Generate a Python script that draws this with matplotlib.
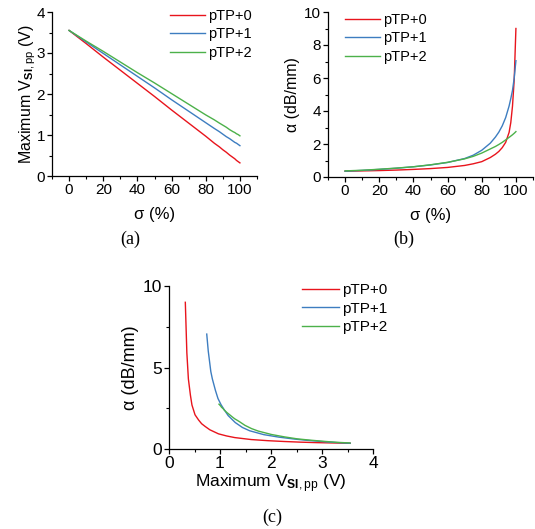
import numpy as np
import matplotlib
matplotlib.use("Agg")
import matplotlib.pyplot as plt
from matplotlib.ticker import MultipleLocator

plt.rcParams['font.family'] = ['Liberation Sans', 'DejaVu Sans']
plt.rcParams['mathtext.fontset'] = 'custom'
plt.rcParams['mathtext.rm'] = 'Liberation Sans'
plt.rcParams['mathtext.bf'] = 'Liberation Sans:bold'
plt.rcParams['mathtext.it'] = 'Liberation Sans:italic'

labels = ["pTP+0", "pTP+1", "pTP+2"]
colors = ["#e8141c", "#3d7dc0", "#4cb14a"]

sigma = [0, 10, 20, 30, 40, 50, 60, 70, 75, 80, 85, 88, 90, 92, 94, 96, 97, 98, 99, 100]

v_p0 = [3.55, 3.23, 2.90, 2.58, 2.26, 1.94, 1.61, 1.29, 1.13, 0.97, 0.80, 0.71, 0.64, 0.58, 0.51, 0.45, 0.42, 0.38, 0.35, 0.32]
v_p1 = [3.55, 3.27, 2.99, 2.71, 2.43, 2.15, 1.86, 1.58, 1.44, 1.30, 1.16, 1.08, 1.02, 0.96, 0.91, 0.85, 0.82, 0.80, 0.77, 0.74]
v_p2 = [3.55, 3.29, 3.04, 2.78, 2.52, 2.27, 2.01, 1.75, 1.62, 1.49, 1.37, 1.29, 1.24, 1.19, 1.13, 1.08, 1.06, 1.03, 1.01, 0.98]

a_p0 = [0.35, 0.37, 0.39, 0.42, 0.46, 0.51, 0.58, 0.70, 0.80, 0.93, 1.18, 1.38, 1.55, 1.78, 2.10, 2.70, 3.30, 4.30, 5.90, 9.00]
a_p1 = [0.35, 0.40, 0.46, 0.53, 0.62, 0.73, 0.88, 1.12, 1.32, 1.62, 2.05, 2.42, 2.72, 3.10, 3.60, 4.30, 4.75, 5.25, 6.00, 7.05]
a_p2 = [0.37, 0.41, 0.47, 0.54, 0.62, 0.74, 0.89, 1.10, 1.25, 1.45, 1.70, 1.85, 1.97, 2.10, 2.25, 2.40, 2.48, 2.56, 2.65, 2.75]

V = [v_p0, v_p1, v_p2]
A = [a_p0, a_p1, a_p2]

W, H = 535, 529
fig = plt.figure(figsize=(W / 100, H / 100), dpi=100)

def ax_px(l, t, r, b):
    return fig.add_axes([l / W, 1 - b / H, (r - l) / W, (b - t) / H])

def style(ax, ls):
    for s in ("top", "right"):
        ax.spines[s].set_visible(False)
    for s in ("left", "bottom"):
        ax.spines[s].set_linewidth(0.9)
    ax.tick_params(which="major", direction="out", length=3.5, width=0.9,
                   labelsize=ls, pad=1.5)
    ax.tick_params(which="minor", direction="out", length=2, width=0.8)

sub = r"Maximum V$_{\mathbf{SI},\mathrm{pp}}$ (V)"

def leg(ax, x, y, fs):
    ax.legend(loc="upper left", bbox_to_anchor=(x / W, 1 - y / H),
              bbox_transform=fig.transFigure, frameon=False, fontsize=fs,
              handlelength=2.4, handletextpad=0.2, labelspacing=0.3,
              borderaxespad=0, borderpad=0)

# (a)
ax1 = ax_px(52, 12, 257, 176)
for v, c, l in zip(V, colors, labels):
    ax1.plot(sigma, v, color=c, lw=1.0, label=l)
ax1.set_xlim(-10, 110)
ax1.set_ylim(0, 4)
ax1.xaxis.set_major_locator(MultipleLocator(20))
ax1.xaxis.set_minor_locator(MultipleLocator(10))
ax1.yaxis.set_major_locator(MultipleLocator(1))
ax1.yaxis.set_minor_locator(MultipleLocator(0.5))
style(ax1, 11)
ax1.set_xlabel("σ (%)", fontsize=12, labelpad=7)
ax1.set_ylabel(sub, fontsize=11.5, labelpad=-1)
leg(ax1, 170, 9, 10.5)

# (b)
ax2 = ax_px(328, 12, 533, 177)
for a, c, l in zip(A, colors, labels):
    ax2.plot(sigma, a, color=c, lw=1.0, label=l)
ax2.set_xlim(-10, 110)
ax2.set_ylim(0, 10)
ax2.xaxis.set_major_locator(MultipleLocator(20))
ax2.xaxis.set_minor_locator(MultipleLocator(10))
ax2.yaxis.set_major_locator(MultipleLocator(2))
ax2.yaxis.set_minor_locator(MultipleLocator(1))
style(ax2, 11)
ax2.set_xlabel("σ (%)", fontsize=12, labelpad=7)
ax2.set_ylabel("α (dB/mm)", fontsize=11.5, labelpad=3)
leg(ax2, 345, 13, 10.5)

# (c)
ax3 = ax_px(169, 286, 373, 449)
for v, a, c, l in zip(V, A, colors, labels):
    ax3.plot(v, a, color=c, lw=1.0, label=l)
ax3.set_xlim(0, 4)
ax3.set_ylim(0, 10)
ax3.xaxis.set_major_locator(MultipleLocator(1))
ax3.xaxis.set_minor_locator(MultipleLocator(0.5))
ax3.yaxis.set_major_locator(MultipleLocator(5))
ax3.yaxis.set_minor_locator(MultipleLocator(2.5))
style(ax3, 12.5)
ax3.set_xlabel(sub, fontsize=12.5, labelpad=1)
ax3.set_ylabel("α (dB/mm)", fontsize=13, labelpad=3)
leg(ax3, 302, 283, 11)

cap_kw = dict(fontsize=13, family=["Liberation Serif", "DejaVu Serif"],
              ha="center", va="center")
fig.text(130 / W, 1 - 239 / H, "(a)", **cap_kw)
fig.text(404 / W, 1 - 239 / H, "(b)", **cap_kw)
fig.text(272 / W, 1 - 517 / H, "(c)", **cap_kw)

fig.savefig("out.png", dpi=100)
